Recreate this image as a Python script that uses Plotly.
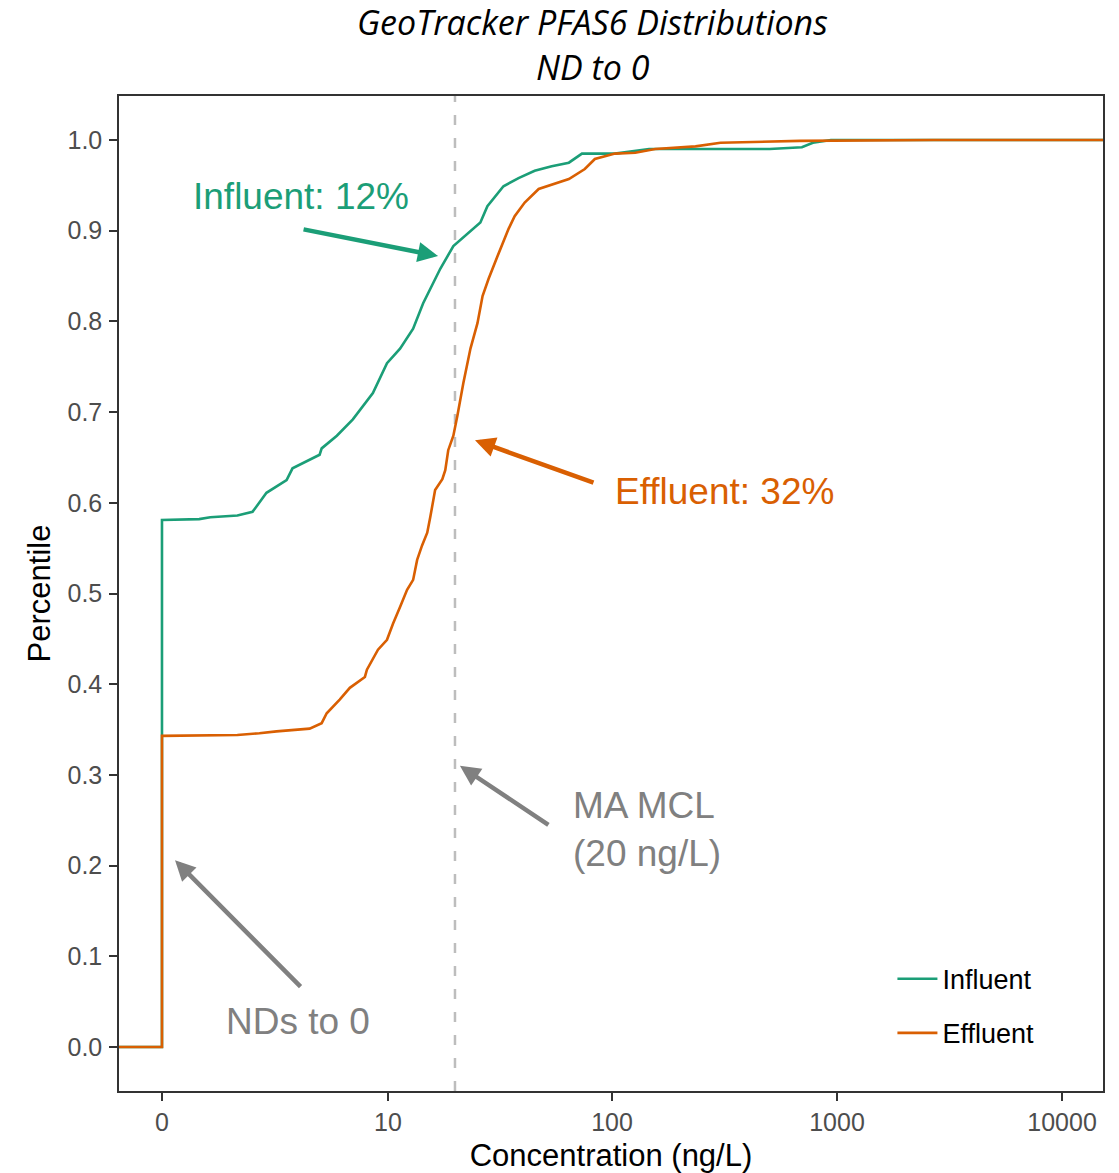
import numpy as np
import plotly.graph_objects as go

# ---------------- data ----------------
# concentrations in ng/L (NDs set to 0); -1 and 20000 are stat_ecdf-style padding
influent_conc = [-1, 0, 0, 0.78, 1.03, 1.70, 2.13, 2.57, 3.30, 3.54, 4.82, 4.93,
                 5.82, 6.91, 8.54, 9.9, 11.34, 12.99, 14.41, 17.19, 19.67, 22.71,
                 25.96, 27.9, 32.9, 38.4, 45.3, 53.95, 64.3, 73.5, 103.1, 146.2,
                 502, 698, 781, 940, 20000]
influent_pct = [0.0, 0.0, 0.581, 0.582, 0.584, 0.586, 0.590, 0.611, 0.625, 0.638,
                0.653, 0.660, 0.674, 0.692, 0.721, 0.754, 0.770, 0.792, 0.820,
                0.858, 0.883, 0.897, 0.909, 0.927, 0.949, 0.958, 0.966, 0.971,
                0.975, 0.985, 0.985, 0.990, 0.990, 0.992, 0.997, 1.0, 1.0]

effluent_conc = [-1, 0, 0, 1.70, 2.34, 2.92, 4.31, 4.93, 5.21, 6.0, 6.69, 7.85,
                 8.02, 9.01, 9.9, 10.55, 11.34, 12.2, 12.99, 13.54, 14.25, 15.03,
                 15.5, 16.3, 17.56, 18.1, 18.66, 19.67, 20.5, 21.8, 23.45, 25.2,
                 26.55, 28.25, 30.97, 32.3, 34.67, 36.9, 40.9, 47.2, 53.95, 64.3,
                 75.7, 83.9, 103.1, 126.8, 155.6, 235, 303.4, 684, 2685, 20000]
effluent_pct = [0.0, 0.0, 0.343, 0.344, 0.346, 0.348, 0.351, 0.357, 0.368, 0.383,
                0.396, 0.408, 0.416, 0.438, 0.449, 0.467, 0.485, 0.504, 0.515,
                0.537, 0.553, 0.567, 0.584, 0.614, 0.626, 0.636, 0.658, 0.674,
                0.696, 0.732, 0.770, 0.798, 0.828, 0.847, 0.872, 0.883, 0.902,
                0.916, 0.931, 0.946, 0.951, 0.957, 0.968, 0.979, 0.985, 0.986,
                0.990, 0.993, 0.997, 0.999, 1.0, 1.0]

x_tick_values = [0, 10, 100, 1000, 10000]
x_tick_labels = ["0", "10", "100", "1000", "10000"]
y_tick_values = [0.0, 0.1, 0.2, 0.3, 0.4, 0.5, 0.6, 0.7, 0.8, 0.9, 1.0]
mcl_value = 20

GREEN = "#1b9e77"
ORANGE = "#d95f02"
GREY = "#808080"


def pseudo_log(x):
    """ggplot2 pseudo_log_trans(sigma = 1, base = 10)"""
    return np.arcsinh(np.asarray(x, dtype=float) / 2) / np.log(10)


fig = go.Figure()
fig.add_trace(go.Scatter(x=pseudo_log(influent_conc), y=influent_pct, mode="lines",
                         name="Influent", legendgroup="a",
                         line=dict(color=GREEN, width=2.6)))
fig.add_trace(go.Scatter(x=pseudo_log(effluent_conc), y=effluent_pct, mode="lines",
                         name="Effluent", legendgroup="b",
                         line=dict(color=ORANGE, width=2.6)))

# MCL dashed line
fig.add_shape(type="line", xref="x", yref="paper",
              x0=float(pseudo_log(mcl_value)), x1=float(pseudo_log(mcl_value)),
              y0=0, y1=1, line=dict(color="#bdbdbd", width=2.5, dash="10px,13px"),
              layer="below")

TXT = "Liberation Sans, Arial, sans-serif"

# arrows (no text)
arrows = [
    (1.227, 0.872, -136, -27, GREEN),
    (1.391, 0.669, 120, 43, ORANGE),
    (1.324, 0.310, 90, 60, GREY),
    (0.058, 0.206, 127, 128, GREY),
]
for hx, hy, ax, ay, col in arrows:
    fig.add_annotation(x=hx, y=hy, xref="x", yref="y", ax=ax, ay=ay, text="",
                       showarrow=True, arrowhead=2, arrowsize=0.9, arrowwidth=4.5,
                       arrowcolor=col, standoff=0)

fig.add_annotation(x=0.618, y=0.938, xref="x", yref="y", text="Influent: 12%",
                   showarrow=False, font=dict(family=TXT, size=37, color=GREEN))
fig.add_annotation(x=2.502, y=0.612, xref="x", yref="y", text="Effluent: 32%",
                   showarrow=False, font=dict(family=TXT, size=37, color=ORANGE))
fig.add_annotation(x=1.818, y=0.240, xref="x", yref="y", text="MA MCL<br>(20 ng/L)",
                   showarrow=False, xanchor="left", align="left",
                   font=dict(family=TXT, size=37, color=GREY))
fig.add_annotation(x=0.604, y=0.0276, xref="x", yref="y", text="NDs to 0",
                   showarrow=False, font=dict(family=TXT, size=37, color=GREY))

# two-line italic title
TITLE_FONT = dict(family="Open Sans, sans-serif", size=34, color="black")
fig.add_annotation(x=0.4817, y=1.0744, xref="paper", yref="paper", yanchor="middle",
                   text="<i>GeoTracker PFAS6 Distributions</i>", showarrow=False,
                   font=TITLE_FONT)
fig.add_annotation(x=0.4817, y=1.0291, xref="paper", yref="paper", yanchor="middle",
                   text="<i>ND to 0</i>", showarrow=False, font=TITLE_FONT)

fig.update_layout(
    width=1119, height=1173,
    margin=dict(l=119, r=16, t=96, b=82),
    paper_bgcolor="white", plot_bgcolor="white",
    legend=dict(x=0.786, y=0.137, xanchor="left", yanchor="top",
                font=dict(family=TXT, size=27, color="black"),
                bgcolor="rgba(0,0,0,0)", tracegroupgap=16, itemwidth=40),
    showlegend=True,
)

fig.update_xaxes(range=[-0.191, 4.182], tickmode="array",
                 tickvals=pseudo_log(x_tick_values), ticktext=x_tick_labels,
                 showgrid=False, zeroline=False, showline=True, mirror=True,
                 linecolor="#333333", linewidth=1.5, ticks="outside", ticklen=8,
                 tickwidth=1.5, tickcolor="#333333", automargin=False,
                 tickfont=dict(family=TXT, size=25, color="#4d4d4d"),
                 title=dict(text="Concentration (ng/L)", standoff=14,
                            font=dict(family=TXT, size=31, color="black")))
fig.update_yaxes(range=[-0.0485, 1.0485], tickmode="array",
                 tickvals=y_tick_values, tickformat=".1f",
                 showgrid=False, zeroline=False, showline=True, mirror=True,
                 linecolor="#333333", linewidth=1.5, ticks="outside", ticklen=8,
                 tickwidth=1.5, tickcolor="#333333", ticklabelstandoff=2,
                 automargin=False,
                 tickfont=dict(family=TXT, size=25, color="#4d4d4d"),
                 title=dict(text="Percentile", standoff=8,
                            font=dict(family=TXT, size=31, color="black")))

# remove the browser's default 8px body margin so the figure fills the window
fig.write_html("out.html", config={"displayModeBar": False},
               post_script="document.body.style.margin='0';document.body.style.overflow='hidden';")
